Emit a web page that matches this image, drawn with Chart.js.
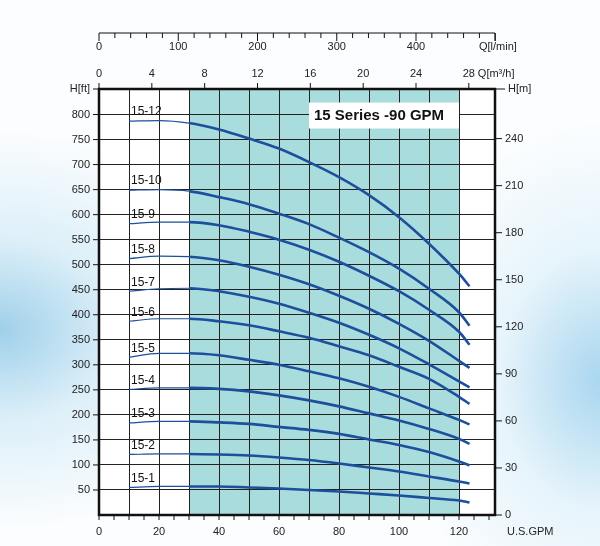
<!DOCTYPE html>
<html><head><meta charset="utf-8">
<script src="https://cdn.jsdelivr.net/npm/chart.js@4/dist/chart.umd.min.js"></script>
<style>
html,body{margin:0;padding:0;width:600px;height:546px;overflow:hidden;
background:radial-gradient(ellipse 260px 200px at 0px 330px,#9fd0ea 0%,rgba(200,230,245,0.6) 45%,rgba(255,255,255,0) 100%),
radial-gradient(ellipse 200px 260px at 600px 380px,#a9d6ef 0%,rgba(210,235,248,0.5) 50%,rgba(255,255,255,0) 100%),#fbfdfe;}
canvas{position:absolute;left:0;top:0;}
</style></head><body>
<canvas id="c" width="600" height="546"></canvas>
<script>
const flows = [10,20,30,40,50,60,70,80,90,100,110,120,123.5];
const models = ["15-12","15-10","15-9","15-8","15-7","15-6","15-5","15-4","15-3","15-2","15-1"];
const h_15_12 = [787,788,783,770,752,732,705,675,639,595,542,482,457];
const h_15_10 = [649,650,647,635,621,602,581,554,525,492,452,405,378];
const h_15_9  = [582,585,585,579,566,550,530,506,478,447,410,366,340];
const h_15_8  = [512,517,516,509,496,480,461,438,412,382,348,308,294];
const h_15_7  = [447,452,453,447,436,422,404,384,360,333,301,267,255];
const h_15_6  = [387,392,392,387,379,367,354,337,319,296,272,236,222];
const h_15_5  = [315,323,323,319,310,300,287,273,256,236,213,190,181];
const h_15_4  = [251,254,254,252,247,239,229,217,203,189,172,152,142];
const h_15_3  = [184,187,187,185,182,176,170,162,151,140,126,107,99];
const h_15_2  = [121,122,122,121,119,115,110,103,95,87,77,67,63];
const h_15_1  = [55,57,57,57,55,53,50,47,43,39,34,29,25];
const heads = [h_15_12,h_15_10,h_15_9,h_15_8,h_15_7,h_15_6,h_15_5,h_15_4,h_15_3,h_15_2,h_15_1];
const gpmTicks = [0,20,40,60,80,100,120];
const lminTicks = [0,100,200,300,400];
const m3hTicks = [0,4,8,12,16,20,24,28];
const ftTicks = [50,100,150,200,250,300,350,400,450,500,550,600,650,700,750,800];
const mTicks = [0,30,60,90,120,150,180,210,240];
const X_MAX = 132, Y_MAX = 851;
const GPM_PER_LMIN = 1/3.78541, GPM_PER_M3H = 4.40287, FT_PER_M_AXIS = 3.133;
const title = "15 Series -90 GPM";

const blue = '#1d4f9c';
const datasets = heads.map((h,i)=>({
  label: models[i],
  data: flows.map((f,j)=>({x:f,y:h[j]})),
  borderColor: blue, backgroundColor: blue, pointRadius:0, cubicInterpolationMode:'monotone', borderWidth:2.6,
  segment:{borderWidth: c => c.p1.parsed.x <= 30 ? 1.2 : 2.6}
}));

const axesPlugin = {
  id:'axesPlugin',
  beforeDraw(chart){
    const {ctx, chartArea:a, scales:{x,y}} = chart;
    ctx.save();
    ctx.fillStyle='#ffffff';
    ctx.fillRect(a.left,a.top,a.right-a.left,a.bottom-a.top);
    ctx.fillStyle='#a9dcdc';
    ctx.fillRect(x.getPixelForValue(30),a.top,x.getPixelForValue(120)-x.getPixelForValue(30),a.bottom-a.top);
    ctx.restore();
  },
  afterDraw(chart){
    const {ctx, chartArea:a, scales:{x,y}} = chart;
    ctx.save();
    ctx.strokeStyle='#111'; ctx.fillStyle='#222';
    ctx.font='11px "Liberation Sans", Arial, sans-serif';
    ctx.lineWidth=2.5;
    ctx.strokeRect(a.left,a.top,a.right-a.left,a.bottom-a.top);
    ctx.lineWidth=1;
    ctx.textAlign='right'; ctx.textBaseline='middle';
    ftTicks.forEach(v=>{const py=y.getPixelForValue(v);
      ctx.beginPath();ctx.moveTo(a.left-6,py);ctx.lineTo(a.left,py);ctx.stroke();
      ctx.fillText(String(v),a.left-9,py);});
    ctx.beginPath();ctx.moveTo(a.left-6,a.top);ctx.lineTo(a.left,a.top);ctx.stroke();
    ctx.fillText('H[ft]',a.left-9,a.top);
    ctx.textAlign='left';
    mTicks.forEach(v=>{const py=y.getPixelForValue(v*FT_PER_M_AXIS);
      ctx.beginPath();ctx.moveTo(a.right,py);ctx.lineTo(a.right+7,py);ctx.stroke();
      ctx.fillText(String(v),a.right+10,py);});
    ctx.beginPath();ctx.moveTo(a.right,a.top);ctx.lineTo(a.right+10,a.top);ctx.stroke();
    ctx.fillText('H[m]',a.right+13,a.top);
    ctx.textAlign='center'; ctx.textBaseline='top';
    for(let v=0; v<=130; v+=5){const px=x.getPixelForValue(v);
      ctx.beginPath();ctx.moveTo(px,a.bottom);ctx.lineTo(px,a.bottom+5);ctx.stroke();}
    gpmTicks.forEach(v=>ctx.fillText(String(v),x.getPixelForValue(v),a.bottom+11));
    ctx.textAlign='left';
    ctx.fillText('U.S.GPM',a.right+12,a.bottom+11);
    ctx.textAlign='center'; ctx.textBaseline='bottom';
    m3hTicks.forEach(v=>{const px=x.getPixelForValue(v*GPM_PER_M3H);
      ctx.beginPath();ctx.moveTo(px,a.top);ctx.lineTo(px,a.top-6);ctx.stroke();
      ctx.fillText(String(v),px,a.top-10);});
    ctx.textAlign='left';
    ctx.fillText('Q[m³/h]',x.getPixelForValue(28*GPM_PER_M3H)+9,a.top-10);
    const ly=33;
    ctx.beginPath();ctx.moveTo(a.left,ly);ctx.lineTo(a.right,ly);ctx.stroke();
    for(let v=0; v<=500; v+=20){const px=x.getPixelForValue(v*GPM_PER_LMIN);
      if(px>a.right+0.5)break;
      const len = v%100===0?8:5;
      ctx.beginPath();ctx.moveTo(px,ly);ctx.lineTo(px,ly+len);ctx.stroke();}
    ctx.beginPath();ctx.moveTo(a.right,ly);ctx.lineTo(a.right,ly+8);ctx.stroke();
    ctx.textAlign='center'; ctx.textBaseline='top';
    lminTicks.forEach(v=>ctx.fillText(String(v),x.getPixelForValue(v*GPM_PER_LMIN),ly+8));
    ctx.textAlign='left';
    ctx.fillText('Q[l/min]',a.right-16,ly+8);
    ctx.font='12px "Liberation Sans", Arial, sans-serif';
    ctx.textAlign='left'; ctx.textBaseline='bottom'; ctx.fillStyle='#111';
    heads.forEach((h,i)=>ctx.fillText(models[i],x.getPixelForValue(flows[0])+2,y.getPixelForValue(h[0])-3));
    ctx.font='bold 15px "Liberation Sans", Arial, sans-serif';
    const tx=x.getPixelForValue(70), ty=y.getPixelForValue(800);
    ctx.fillStyle='#fff'; ctx.fillRect(tx,ty-12,150,26);
    ctx.fillStyle='#111'; ctx.textBaseline='middle';
    ctx.fillText(title,tx+5,ty+1);
    ctx.restore();
  }
};

new Chart(document.getElementById('c'),{
  type:'line',
  data:{datasets},
  options:{
    responsive:false, animation:false,
    layout:{padding:{left:99,right:105,top:89,bottom:31}},
    plugins:{legend:{display:false},tooltip:{enabled:false}},
    scales:{
      x:{type:'linear',min:0,max:X_MAX,display:true,
        afterBuildTicks:s=>{s.ticks=[];for(let v=10;v<=120;v+=10)s.ticks.push({value:v});},
        afterFit:s=>{s.height=0;},
        ticks:{display:false},grid:{color:'#222',lineWidth:1,drawTicks:false},border:{display:false}},
      y:{type:'linear',min:0,max:Y_MAX,display:true,
        afterBuildTicks:s=>{s.ticks=[];for(let v=50;v<=800;v+=50)s.ticks.push({value:v});},
        afterFit:s=>{s.width=0;},
        ticks:{display:false},grid:{color:'#222',lineWidth:1,drawTicks:false},border:{display:false}}
    }
  },
  plugins:[axesPlugin]
});
</script></body></html>
